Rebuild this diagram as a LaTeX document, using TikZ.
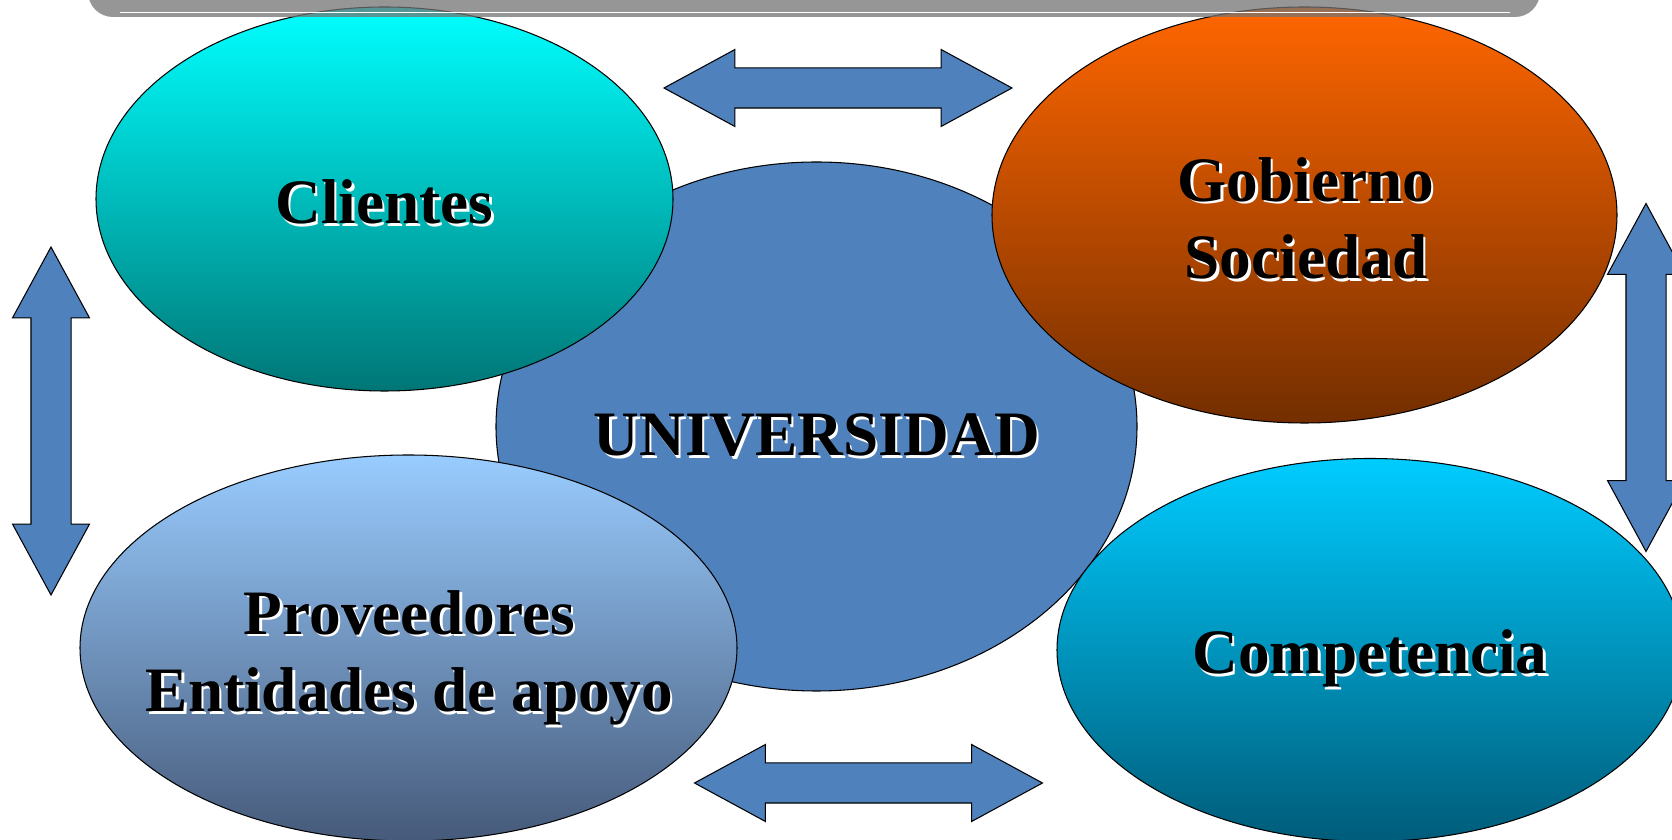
\documentclass[tikz,border=0pt]{standalone}
\usepackage{fontspec}
\setmainfont{Liberation Serif}
\usepackage{tikz}
\usetikzlibrary{shapes.geometric, shapes.arrows, positioning, calc}
\definecolor{univblue}{RGB}{79, 129, 189}
\definecolor{clitop}{RGB}{0, 255, 255}
\definecolor{clibot}{RGB}{0, 118, 118}
\definecolor{gobtop}{RGB}{255, 102, 0}
\definecolor{gobbot}{RGB}{115, 46, 0}
\definecolor{provtop}{RGB}{153, 204, 255}
\definecolor{provbot}{RGB}{70, 90, 122}
\definecolor{comptop}{RGB}{0, 204, 255}
\definecolor{compbot}{RGB}{0, 92, 122}
\newcommand{\sombra}[1]{\makebox[0pt][l]{\hspace{1.3pt}\raisebox{-1.3pt}{\color{white}#1}}#1}

\begin{document}
\begin{tikzpicture}[
    ovalo/.style={ellipse, draw=black, line width=0.6pt, inner sep=0pt},
    flecha/.style={double arrow, draw=black, line width=0.6pt, fill=univblue, minimum height=6.96cm, minimum width=1.52cm, double arrow head extend=0.37cm, double arrow tip angle=57, inner xsep=0pt, inner ysep=0.39cm},
    etiq/.style={font=\fontsize{36}{44}\selectfont\bfseries, align=center, inner sep=0pt, anchor=base},
]
\useasboundingbox (0,0) rectangle (33.44,16.8);

% Universidad (centre)
\node[ovalo, fill=univblue, minimum width=12.82cm, minimum height=10.58cm] (uni) at (16.33,8.27) {};

% Entorno
\node[ovalo, top color=clitop, bottom color=clibot, minimum width=11.54cm, minimum height=7.68cm] (cli) at (7.69,12.82) {};
\node[ovalo, top color=gobtop, bottom color=gobbot, minimum width=12.50cm, minimum height=8.32cm] (gob) at (26.09,12.50) {};
\node[ovalo, top color=provtop, bottom color=provbot, minimum width=13.14cm, minimum height=7.72cm] (prov) at (8.17,3.84) {};
\node[ovalo, top color=comptop, bottom color=compbot, minimum width=12.52cm, minimum height=7.66cm] (comp) at (27.40,3.80) {};

% Flechas dobles
\node[flecha] (fsup) at (16.76,15.04) {};
\node[flecha] (finf) at (17.37,1.14) {};
\node[flecha, rotate=90] (fizq) at (1.02,8.38) {};
\node[flecha, rotate=90] (fder) at (32.92,9.25) {};

% Banda superior
\fill[black!55, opacity=0.75, rounded corners=0.5cm] (1.76,17.6) rectangle (30.80,16.46);
\draw[white, line width=0.8pt] (2.4,16.55) -- (30.2,16.55);

% Etiquetas (base = ultima linea)
\node[etiq] (tcli) at (7.69,12.32) {\sombra{Clientes}};
\node[etiq] (tgob) at (26.12,11.22) {\sombra{Gobierno}\\\sombra{Sociedad}};
\node[etiq] (tuni) at (16.34,7.68) {\sombra{UNIVERSIDAD}};
\node[etiq] (tprov) at (8.19,2.56) {\sombra{Proveedores}\\\sombra{Entidades de apoyo}};
\node[etiq] (tcomp) at (27.40,3.32) {\sombra{Competencia}};

\end{tikzpicture}
\end{document}
